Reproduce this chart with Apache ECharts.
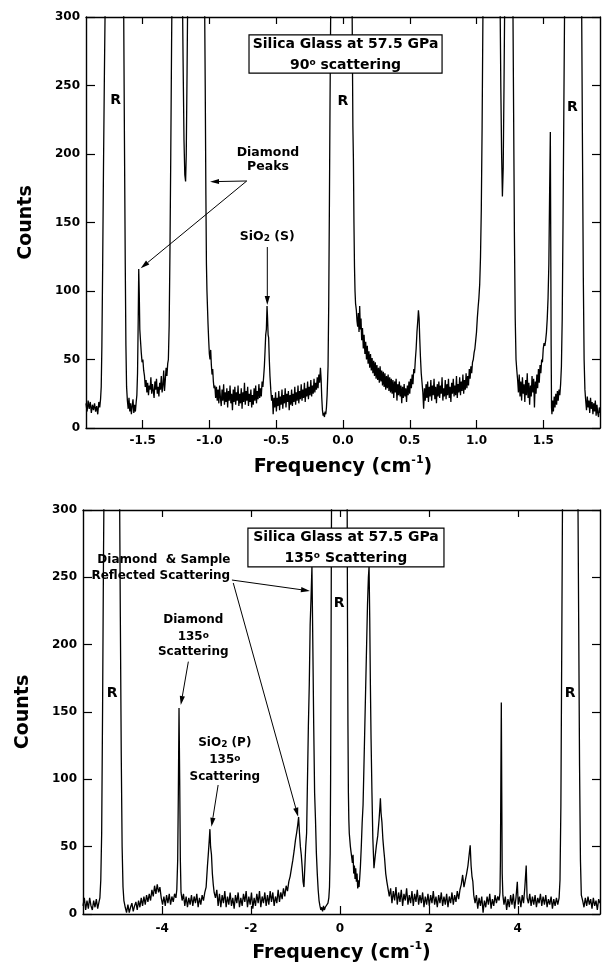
<!DOCTYPE html>
<html><head><meta charset="utf-8">
<script src="https://cdn.jsdelivr.net/npm/echarts@6/dist/echarts.min.js"></script>
<style>html,body{margin:0;padding:0;background:#fff}#c{width:605px;height:970px}</style>
</head><body><div id="c"></div>
<script>
// ---------- DATA ----------
// 90 degree spectrum: [frequency (cm^-1), counts]
const topSpectrum = [
[-1.925,18],[-1.917,12],[-1.909,20],[-1.901,14],[-1.893,19],[-1.885,11],[-1.877,17],[-1.869,13],[-1.861,18],[-1.853,12],[-1.845,16],[-1.837,10],[-1.829,19],[-1.822,15],[-1.816,21],
[-1.811,30],[-1.806,60],[-1.800,120],[-1.794,190],[-1.787,260],[-1.779,330],[-1.770,400],
[-1.650,400],[-1.643,310],[-1.637,210],[-1.631,120],[-1.626,60],[-1.621,30],
[-1.615,20],[-1.609,14],[-1.603,22],[-1.597,12],[-1.591,18],[-1.585,10],[-1.579,16],[-1.573,21],[-1.567,11],[-1.561,17],[-1.555,12],[-1.549,19],[-1.544,24],
[-1.539,40],[-1.534,78],[-1.530,116],[-1.526,98],[-1.522,72],[-1.517,64],[-1.511,55],[-1.505,48],[-1.499,50],[-1.493,42],[-1.487,38],[-1.481,30],[-1.475,35],
[-1.469,26],[-1.463,33],[-1.457,24],[-1.451,31],[-1.445,28],[-1.439,37],[-1.433,25],[-1.427,32],[-1.421,27],[-1.415,22],[-1.409,34],[-1.403,28],[-1.397,36],[-1.391,25],[-1.385,30],[-1.379,23],[-1.373,33],[-1.367,28],[-1.361,38],[-1.355,26],[-1.349,31],[-1.343,42],[-1.337,27],[-1.331,35],[-1.325,44],[-1.319,38],[-1.313,47],
[-1.308,50],[-1.302,75],[-1.296,130],[-1.290,200],[-1.284,280],[-1.277,360],[-1.270,400],
[-1.215,400],[-1.205,340],[-1.198,270],[-1.191,210],[-1.185,185],[-1.179,180],[-1.174,200],[-1.168,260],[-1.161,340],[-1.152,400],
[-1.045,400],[-1.038,330],[-1.032,250],[-1.027,170],[-1.023,120],[-1.019,100],[-1.015,88],[-1.011,76],[-1.006,64],[-1.001,54],[-0.996,50],[-0.991,57],[-0.986,46],[-0.981,39],[-0.976,43],[-0.971,34],[-0.966,29],
[-0.960,31],[-0.954,22],[-0.948,30],[-0.942,20],[-0.936,28],[-0.930,18],[-0.924,31],[-0.918,22],[-0.912,16],[-0.906,28],[-0.900,20],[-0.894,32],[-0.888,17],[-0.882,26],[-0.876,19],[-0.870,29],[-0.864,15],[-0.858,27],[-0.852,20],[-0.846,31],[-0.840,18],[-0.834,25],[-0.828,13],[-0.822,28],[-0.816,19],[-0.810,30],[-0.804,17],[-0.798,26],[-0.792,20],[-0.786,31],[-0.780,16],[-0.774,25],[-0.768,18],[-0.762,29],[-0.756,14],[-0.750,26],[-0.744,19],[-0.738,33],[-0.732,17],[-0.726,27],[-0.720,20],[-0.714,30],[-0.708,16],[-0.702,25],[-0.696,19],[-0.690,28],[-0.684,15],[-0.678,24],[-0.672,17],[-0.666,29],[-0.660,20],[-0.654,31],[-0.648,18],[-0.642,27],[-0.636,21],[-0.630,32],[-0.624,22],[-0.618,29],[-0.612,23],[-0.606,34],[-0.600,30],
[-0.594,38],[-0.589,45],[-0.584,56],[-0.579,68],[-0.574,72],[-0.569,89],[-0.565,80],[-0.561,68],[-0.557,66],[-0.552,50],[-0.547,38],[-0.541,28],[-0.535,20],
[-0.529,24],[-0.523,10],[-0.517,22],[-0.511,15],[-0.505,26],[-0.499,12],[-0.493,22],[-0.487,16],[-0.481,27],[-0.475,13],[-0.469,23],[-0.463,17],[-0.457,28],[-0.451,14],[-0.445,24],[-0.439,18],[-0.433,29],[-0.427,15],[-0.421,25],[-0.415,19],[-0.409,27],[-0.403,13],[-0.397,24],[-0.391,17],[-0.385,28],[-0.379,16],[-0.373,25],[-0.367,19],[-0.361,30],[-0.355,17],[-0.349,26],[-0.343,20],[-0.337,31],[-0.331,18],[-0.325,27],[-0.319,21],[-0.313,32],[-0.307,20],[-0.301,28],[-0.295,22],[-0.289,33],[-0.283,19],[-0.277,29],[-0.271,23],[-0.265,34],[-0.259,21],[-0.253,30],[-0.247,24],[-0.241,35],[-0.235,23],[-0.229,31],[-0.223,25],[-0.217,36],[-0.211,26],[-0.205,33],[-0.199,28],[-0.193,37],[-0.187,29],[-0.181,39],[-0.175,33],[-0.169,44],[-0.164,36],
[-0.159,22],[-0.154,13],[-0.149,9],[-0.144,11],[-0.139,8],[-0.134,12],[-0.129,10],[-0.124,15],[-0.119,24],
[-0.112,45],[-0.107,90],[-0.102,160],[-0.097,240],[-0.091,320],[-0.084,400],
[0.060,400],[0.066,340],[0.070,280],[0.074,220],[0.078,196],[0.082,150],[0.086,118],[0.090,100],[0.094,91],
[0.100,86],[0.105,78],[0.110,74],[0.115,84],[0.120,70],[0.125,89],[0.130,72],[0.135,80],[0.140,64],[0.146,73],[0.152,58],[0.158,68],[0.164,54],[0.170,63],[0.176,50],[0.182,60],[0.188,47],[0.194,56],[0.200,44],[0.206,54],[0.212,42],[0.218,51],[0.224,40],[0.230,49],[0.236,38],[0.242,48],[0.248,36],[0.254,46],[0.260,35],[0.266,44],[0.272,33],[0.278,45],[0.284,34],[0.290,42],[0.296,31],[0.302,41],[0.308,30],[0.314,40],[0.320,28],[0.326,38],[0.332,29],[0.338,39],[0.344,27],[0.350,37],[0.356,26],[0.362,36],[0.368,25],[0.374,35],[0.380,22],[0.386,34],[0.392,26],[0.398,36],[0.404,20],[0.410,32],[0.416,24],[0.422,34],[0.428,23],[0.434,31],[0.440,18],[0.446,30],[0.452,22],[0.458,32],[0.464,23],[0.470,29],[0.476,19],[0.482,31],[0.488,24],[0.494,34],[0.500,25],[0.506,36],[0.512,29],[0.518,39],[0.524,32],[0.530,43],[0.536,40],[0.542,50],[0.548,58],[0.554,70],[0.560,78],[0.565,86],[0.570,80],[0.575,65],[0.580,52],[0.586,40],[0.592,33],[0.598,26],
[0.604,14],[0.610,29],[0.616,20],[0.622,32],[0.628,22],[0.634,34],[0.640,19],[0.646,30],[0.652,23],[0.658,35],[0.664,20],[0.670,31],[0.676,24],[0.682,36],[0.688,21],[0.694,30],[0.700,18],[0.706,32],[0.712,23],[0.718,34],[0.724,22],[0.730,31],[0.736,25],[0.742,37],[0.748,20],[0.754,29],[0.760,23],[0.766,35],[0.772,21],[0.778,32],[0.784,24],[0.790,36],[0.796,22],[0.802,30],[0.808,19],[0.814,33],[0.820,25],[0.826,36],[0.832,23],[0.838,31],[0.844,24],[0.850,38],[0.856,22],[0.862,32],[0.868,26],[0.874,37],[0.880,24],[0.886,34],[0.892,27],[0.898,39],[0.904,25],[0.910,35],[0.916,28],[0.922,40],[0.928,29],[0.934,38],[0.940,31],[0.946,43],[0.952,36],[0.958,45],[0.964,40],[0.970,48],
[0.976,50],[0.982,55],[0.988,58],[0.994,64],[1.000,70],[1.006,80],[1.012,88],[1.018,95],[1.024,105],[1.030,125],[1.036,160],[1.042,220],[1.048,300],[1.054,400],
[1.170,400],[1.175,330],[1.182,250],[1.188,200],[1.194,169],[1.200,190],[1.206,250],[1.212,320],[1.220,400],
[1.265,400],[1.272,320],[1.278,230],[1.284,140],[1.290,80],[1.296,50],[1.302,42],
[1.308,35],[1.314,26],[1.320,39],[1.326,23],[1.332,34],[1.338,20],[1.344,37],[1.350,25],[1.356,32],[1.362,19],[1.368,35],[1.374,24],[1.380,40],[1.386,22],[1.392,33],[1.398,17],[1.404,31],[1.410,23],[1.416,38],[1.422,26],[1.428,36],[1.434,15],[1.440,34],[1.446,25],[1.452,39],[1.458,29],[1.464,43],[1.470,33],[1.476,46],[1.482,40],[1.488,50],[1.494,48],[1.500,58],[1.506,62],
[1.512,60],[1.518,64],[1.524,70],[1.530,80],[1.536,95],[1.542,120],[1.548,175],[1.553,216],[1.556,140],[1.559,60],[1.562,15],[1.565,10],
[1.570,20],[1.576,12],[1.582,23],[1.588,15],[1.594,25],[1.600,17],[1.606,27],[1.612,20],[1.618,28],[1.624,24],[1.630,32],
[1.636,45],[1.642,80],[1.648,150],[1.654,230],[1.660,310],[1.668,400],
[1.780,400],[1.788,300],[1.794,200],[1.800,110],[1.806,50],[1.812,28],
[1.818,20],[1.824,13],[1.830,23],[1.836,15],[1.842,20],[1.848,11],[1.854,22],[1.860,14],[1.866,19],[1.872,10],[1.878,18],[1.884,12],[1.890,20],[1.896,9],[1.902,17],[1.908,11],[1.914,8],[1.920,15],[1.925,11]
];

// 135 degree spectrum: [frequency (cm^-1), counts]
const bottomSpectrum = [
[-5.78,6],[-5.75,12],[-5.72,3],[-5.69,10],[-5.66,4],[-5.63,12],[-5.60,6],[-5.57,3],[-5.54,10],[-5.51,5],[-5.48,11],[-5.45,4],[-5.42,9],[-5.40,12],
[-5.38,25],[-5.36,60],[-5.34,150],[-5.32,260],[-5.30,350],[-5.25,400],
[-5.00,400],[-4.96,330],[-4.94,220],[-4.92,120],[-4.90,50],[-4.88,20],[-4.86,10],
[-4.83,5],[-4.80,1],[-4.77,7],[-4.74,1],[-4.71,5],[-4.68,8],[-4.65,2],[-4.62,6],[-4.59,9],[-4.56,3],[-4.53,10],[-4.50,5],[-4.47,12],[-4.44,6],[-4.41,13],[-4.38,7],[-4.35,14],[-4.32,9],[-4.29,15],[-4.26,10],[-4.23,18],[-4.20,13],[-4.17,21],[-4.14,15],[-4.11,22],[-4.08,16],[-4.05,20],[-4.02,12],[-3.99,7],[-3.96,13],[-3.93,6],[-3.90,14],[-3.87,8],[-3.84,15],[-3.81,7],[-3.78,13],[-3.75,9],[-3.72,15],[-3.69,12],
[-3.67,18],[-3.65,40],[-3.635,90],[-3.62,153],[-3.605,100],[-3.59,40],[-3.575,16],
[-3.55,10],[-3.52,15],[-3.49,6],[-3.46,13],[-3.43,5],[-3.40,12],[-3.37,7],[-3.34,14],[-3.31,6],[-3.28,13],[-3.25,8],[-3.22,15],[-3.19,5],[-3.16,12],[-3.13,7],[-3.10,14],[-3.07,10],[-3.04,16],
[-3.01,20],[-2.98,36],[-2.96,45],[-2.94,55],[-2.925,63],[-2.91,50],[-2.89,44],[-2.87,30],[-2.85,22],[-2.83,16],
[-2.80,12],[-2.77,18],[-2.74,6],[-2.71,15],[-2.68,5],[-2.65,14],[-2.62,8],[-2.59,17],[-2.56,5],[-2.53,13],[-2.50,7],[-2.47,16],[-2.44,6],[-2.41,12],[-2.38,4],[-2.35,14],[-2.32,8],[-2.29,16],[-2.26,5],[-2.23,12],[-2.20,6],[-2.17,15],[-2.14,9],[-2.11,17],[-2.08,5],[-2.05,13],[-2.02,7],[-1.99,16],[-1.96,4],[-1.93,12],[-1.90,6],[-1.87,15],[-1.84,8],[-1.81,17],[-1.78,5],[-1.75,13],[-1.72,8],[-1.69,16],[-1.66,6],[-1.63,14],[-1.60,7],[-1.57,17],[-1.54,9],[-1.51,16],[-1.48,6],[-1.45,13],[-1.42,8],[-1.39,18],[-1.36,9],[-1.33,16],[-1.30,11],[-1.27,19],[-1.24,13],[-1.21,21],[-1.18,17],[-1.15,24],
[-1.12,28],[-1.09,34],[-1.06,40],[-1.03,47],[-1.00,55],[-0.975,60],[-0.95,66],[-0.93,72],[-0.91,60],[-0.89,50],[-0.87,44],[-0.85,35],[-0.83,24],[-0.81,20],[-0.79,35],[-0.77,50],[-0.75,60],[-0.73,100],[-0.71,140],[-0.69,170],[-0.67,215],[-0.65,235],[-0.63,258],[-0.61,200],[-0.59,140],[-0.57,90],[-0.55,70],[-0.53,45],[-0.51,30],[-0.49,18],[-0.47,10],[-0.45,6],[-0.43,3],[-0.41,5],[-0.39,2],[-0.37,6],[-0.35,3],[-0.33,5],[-0.31,4],[-0.29,6],[-0.27,8],[-0.25,12],[-0.235,20],[-0.22,45],[-0.21,100],[-0.20,200],[-0.19,300],[-0.18,400],
[0.15,400],[0.16,330],[0.17,220],[0.18,140],[0.19,90],[0.20,70],[0.21,60],[0.22,56],[0.235,50],[0.25,46],[0.265,42],[0.28,38],[0.295,44],[0.31,30],[0.325,36],[0.34,26],[0.355,34],[0.37,24],[0.385,30],[0.40,19],[0.415,25],[0.43,20],[0.445,27],[0.46,35],[0.48,50],[0.50,68],[0.52,81],[0.54,110],[0.56,140],[0.58,170],[0.60,200],[0.62,230],[0.64,250],[0.655,258],[0.67,220],[0.685,170],[0.70,130],[0.72,90],[0.74,56],[0.765,34],[0.79,42],[0.82,51],[0.85,58],[0.88,70],[0.90,80],[0.91,86],[0.925,75],[0.945,68],[0.965,56],[0.985,48],[1.005,41],[1.03,30],[1.055,24],[1.08,19],
[1.11,13],[1.14,19],[1.17,8],[1.20,17],[1.23,10],[1.26,20],[1.29,7],[1.32,16],[1.35,9],[1.38,18],[1.41,6],[1.44,15],[1.47,10],[1.50,19],[1.53,7],[1.56,14],[1.59,8],[1.62,17],[1.65,6],[1.68,15],[1.71,9],[1.74,18],[1.77,7],[1.80,14],[1.83,8],[1.86,16],[1.89,5],[1.92,13],[1.95,7],[1.98,15],[2.01,6],[2.04,14],[2.07,8],[2.10,17],[2.13,7],[2.16,13],[2.19,5],[2.22,14],[2.25,8],[2.28,16],[2.31,6],[2.34,13],[2.37,7],[2.40,15],[2.43,5],[2.46,13],[2.49,8],[2.52,16],[2.55,7],[2.58,14],[2.61,9],[2.64,17],[2.67,11],[2.70,18],
[2.73,22],[2.76,29],[2.79,20],[2.82,25],[2.85,30],[2.88,36],[2.91,45],[2.93,51],[2.95,36],[2.97,28],[2.99,24],[3.01,14],
[3.04,8],[3.07,14],[3.10,4],[3.13,12],[3.16,6],[3.19,13],[3.22,1],[3.25,10],[3.28,5],[3.31,13],[3.34,7],[3.37,15],[3.40,4],[3.43,11],[3.46,6],[3.49,14],[3.52,8],[3.55,13],[3.58,10],[3.60,16],
[3.61,40],[3.62,100],[3.63,157],[3.64,90],[3.65,30],[3.665,14],
[3.69,7],[3.72,13],[3.75,3],[3.78,11],[3.81,5],[3.84,14],[3.87,7],[3.90,15],[3.93,4],[3.96,12],[3.99,24],[4.01,7],[4.04,13],[4.07,5],[4.10,14],[4.13,8],[4.16,20],[4.19,36],[4.21,12],[4.24,8],[4.27,15],[4.30,6],[4.33,13],[4.36,7],[4.39,14],[4.42,5],[4.45,12],[4.48,8],[4.51,15],[4.54,6],[4.57,13],[4.60,7],[4.63,14],[4.66,5],[4.69,11],[4.72,7],[4.75,13],[4.78,4],[4.81,11],[4.84,6],[4.87,12],[4.90,7],[4.93,12],
[4.95,25],[4.97,80],[4.99,200],[5.01,330],[5.04,400],
[5.32,400],[5.35,330],[5.37,220],[5.39,110],[5.41,40],[5.43,14],
[5.46,10],[5.49,5],[5.52,12],[5.55,6],[5.58,13],[5.61,7],[5.64,11],[5.67,4],[5.70,12],[5.73,6],[5.76,10],[5.79,3],[5.82,11],[5.85,8]
];

const topXTicks = [-1.5, -1.0, -0.5, 0, 0.5, 1.0, 1.5];
const bottomXTicks = [-4, -2, 0, 2, 4];

// ---------- CHART ----------
const FONT = '"DejaVu Sans", "Liberation Sans", sans-serif';
const chart = echarts.init(document.getElementById('c'), null, {renderer: 'canvas'});

const axisLine = {show: true, onZero: false, lineStyle: {color: '#000', width: 1.4}};
const tickStyle = {color: '#000', width: 1.2};
const labelStyle = {color: '#000', fontFamily: FONT, fontWeight: 'bold', fontSize: 12};
const nameStyle = {color: '#000', fontFamily: FONT, fontWeight: 'bold', fontSize: 19, lineHeight: 24,
  rich: {sup: {fontFamily: FONT, fontWeight: 'bold', fontSize: 11, lineHeight: 11, verticalAlign: 'top', color: '#000'}}};

function xPair(gi, min, max, ticks, fmt, margin) {
  return [
    {type: 'value', gridIndex: gi, position: 'bottom', min: min, max: max,
     axisLine: axisLine,
     axisTick: {show: true, inside: true, length: 8, customValues: ticks, lineStyle: tickStyle},
     axisLabel: Object.assign({show: true, margin: margin, customValues: ticks, formatter: fmt}, labelStyle),
     splitLine: {show: false},
     name: 'Frequency (cm{sup|-1})', nameLocation: 'middle', nameGap: 27, nameTextStyle: nameStyle},
    {type: 'value', gridIndex: gi, position: 'top', min: min, max: max,
     axisLine: axisLine,
     axisTick: {show: true, inside: true, length: 7, customValues: ticks, lineStyle: tickStyle},
     axisLabel: {show: false}, splitLine: {show: false}}
  ];
}
function yPair(gi) {
  return [
    {type: 'value', gridIndex: gi, position: 'left', min: 0, max: 300, interval: 50,
     axisLine: axisLine,
     axisTick: {show: true, inside: true, length: 9, lineStyle: tickStyle},
     axisLabel: Object.assign({show: true, margin: 6}, labelStyle),
     splitLine: {show: false},
     name: 'Counts', nameLocation: 'middle', nameGap: 50, nameRotate: 90,
     nameTextStyle: {color: '#000', fontFamily: FONT, fontWeight: 'bold', fontSize: 19}},
    {type: 'value', gridIndex: gi, position: 'right', min: 0, max: 300, interval: 50,
     axisLine: axisLine,
     axisTick: {show: true, inside: true, length: 8, lineStyle: tickStyle},
     axisLabel: {show: false}, splitLine: {show: false}}
  ];
}

const option = {
  animation: false,
  backgroundColor: '#fff',
  grid: [
    {left: 86, right: 5, top: 17, height: 411, containLabel: false},
    {left: 83, right: 5, top: 510, height: 404, containLabel: false}
  ],
  xAxis: [].concat(
    xPair(0, -1.925, 1.925, topXTicks, v => v.toFixed(1), 7),
    xPair(1, -5.78, 5.85, bottomXTicks, v => String(v), 9)
  ),
  yAxis: [].concat(yPair(0), yPair(1)),
  series: [
    {type: 'line', xAxisIndex: 0, yAxisIndex: 0, data: topSpectrum, showSymbol: false,
     clip: true, lineStyle: {color: '#000', width: 1.3}, z: 2},
    {type: 'line', xAxisIndex: 2, yAxisIndex: 2, data: bottomSpectrum, showSymbol: false,
     clip: true, lineStyle: {color: '#000', width: 1.3}, z: 2}
  ]
};
chart.setOption(option);

// ---------- ANNOTATIONS (data coordinates) ----------
function P(si, x, y) { return chart.convertToPixel({seriesIndex: si}, [x, y]); }
const richDefs = {
  o: {fontFamily: FONT, fontWeight: 'bold', fontSize: 9, verticalAlign: 'top', fill: '#000'},
  s: {fontFamily: FONT, fontWeight: 'bold', fontSize: 9, verticalAlign: 'bottom', fill: '#000'}
};
const els = [];
function txt(si, x, y, t, size) {
  const p = P(si, x, y);
  els.push({type: 'text', x: p[0], y: p[1], z: 101,
    style: {text: t, fill: '#000', fontFamily: FONT, fontWeight: 'bold', fontSize: size,
      align: 'center', verticalAlign: 'middle', textAlign: 'center', textVerticalAlign: 'middle',
      rich: richDefs}});
}
function box(si, x0, y0, x1, y1) {
  const a = P(si, x0, y0), b = P(si, x1, y1);
  els.push({type: 'rect', z: 100,
    shape: {x: Math.min(a[0], b[0]), y: Math.min(a[1], b[1]), width: Math.abs(b[0] - a[0]), height: Math.abs(b[1] - a[1])},
    style: {fill: '#fff', stroke: '#000', lineWidth: 1.2}});
}
function arrow(si, x0, y0, x1, y1) {
  const a = P(si, x0, y0), b = P(si, x1, y1);
  const dx = b[0] - a[0], dy = b[1] - a[1], L = Math.sqrt(dx * dx + dy * dy);
  const ux = dx / L, uy = dy / L, hl = 9, hw = 2.6;
  const bx = b[0] - ux * hl, by = b[1] - uy * hl;
  els.push({type: 'line', z: 100, shape: {x1: a[0], y1: a[1], x2: bx, y2: by},
    style: {stroke: '#000', lineWidth: 1}});
  els.push({type: 'polygon', z: 100,
    shape: {points: [[b[0], b[1]], [bx - uy * hw, by + ux * hw], [bx + uy * hw, by - ux * hw]]},
    style: {fill: '#000'}});
}

// top chart
box(0, -0.704, 286.9, 0.742, 259.1);
txt(0, 0.019, 280.3, 'Silica Glass at 57.5 GPa', 14);
txt(0, 0.019, 265.0, '90{o|o} scattering', 14);
txt(0, -1.703, 239.4, 'R', 14);
txt(0, 0.0, 238.7, 'R', 14);
txt(0, 1.719, 234.3, 'R', 14);
txt(0, -0.562, 200.7, 'Diamond', 12.5);
txt(0, -0.562, 190.5, 'Peaks', 12.5);
arrow(0, -0.721, 180.3, -0.996, 179.8);
arrow(0, -0.721, 180.3, -1.515, 116.6);
txt(0, -0.567, 139.6, 'SiO{s|2} (S)', 12.5);
arrow(0, -0.567, 132.1, -0.567, 89.8);

// bottom chart
box(1, -2.07, 286.6, 2.34, 257.7);
txt(1, 0.135, 279.9, 'Silica Glass at 57.5 GPa', 14);
txt(1, 0.135, 264.4, '135{o|o} Scattering', 14);
txt(1, -5.125, 164.1, 'R', 14);
txt(1, -0.02, 231.0, 'R', 14);
txt(1, 5.18, 164.1, 'R', 14);
txt(1, -3.96, 262.9, 'Diamond  & Sample', 12);
txt(1, -4.03, 251.0, 'Reflected Scattering', 12);
arrow(1, -2.43, 248.0, -0.675, 239.9);
arrow(1, -2.40, 245.8, -0.94, 72.3);
txt(1, -3.30, 218.3, 'Diamond', 12);
txt(1, -3.30, 205.9, '135{o|o}', 12);
txt(1, -3.30, 194.8, 'Scattering', 12);
arrow(1, -3.41, 187.4, -3.58, 155.2);
txt(1, -2.59, 126.8, 'SiO{s|2} (P)', 12);
txt(1, -2.59, 114.4, '135{o|o}', 12);
txt(1, -2.59, 102.0, 'Scattering', 12);
arrow(1, -2.74, 95.8, -2.89, 64.8);

chart.setOption({graphic: {elements: els}});
</script>
</body></html>
